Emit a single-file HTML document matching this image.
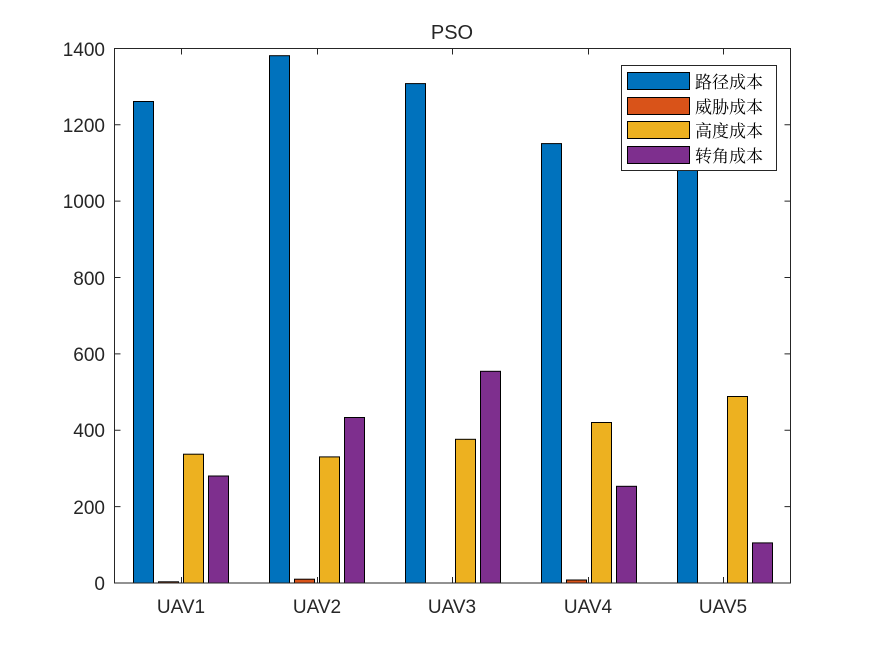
<!DOCTYPE html>
<html><head><meta charset="utf-8"><style>body{margin:0;background:#fff}svg{display:block}</style></head><body>
<svg width="875" height="656" xmlns="http://www.w3.org/2000/svg" font-family="Liberation Sans, sans-serif">
<rect width="875" height="656" fill="#fff"/>
<g stroke="#000" stroke-width="1">
<rect x="133.5" y="101.5" width="20" height="481.5" fill="#0072BD"/>
<rect x="158.5" y="581.8" width="20" height="1.2" fill="#D95319"/>
<rect x="183.5" y="454.2" width="20" height="128.8" fill="#EDB120"/>
<rect x="208.5" y="476.0" width="20" height="107" fill="#7E2F8E"/>
<rect x="269.5" y="55.7" width="20" height="527.3" fill="#0072BD"/>
<rect x="294.5" y="579.2" width="20" height="3.8" fill="#D95319"/>
<rect x="319.5" y="456.9" width="20" height="126.1" fill="#EDB120"/>
<rect x="344.5" y="417.5" width="20" height="165.5" fill="#7E2F8E"/>
<rect x="405.5" y="83.6" width="20" height="499.4" fill="#0072BD"/>
<rect x="455.5" y="439.3" width="20" height="143.7" fill="#EDB120"/>
<rect x="480.5" y="371.3" width="20" height="211.7" fill="#7E2F8E"/>
<rect x="541.5" y="143.6" width="20" height="439.4" fill="#0072BD"/>
<rect x="566.5" y="580" width="20" height="3" fill="#D95319"/>
<rect x="591.5" y="422.5" width="20" height="160.5" fill="#EDB120"/>
<rect x="616.5" y="486.3" width="20" height="96.7" fill="#7E2F8E"/>
<rect x="677.5" y="155" width="20" height="428" fill="#0072BD"/>
<rect x="727.5" y="396.5" width="20" height="186.5" fill="#EDB120"/>
<rect x="752.5" y="542.9" width="20" height="40.1" fill="#7E2F8E"/>
</g>
<g stroke="#262626" stroke-width="1" fill="none">
<rect x="114.5" y="48.5" width="676" height="534.5"/>
<path d="M114.5 506.6h6M114.5 430.2h6M114.5 353.9h6M114.5 277.5h6M114.5 201.1h6M114.5 124.8h6
M790.5 506.6h-6M790.5 430.2h-6M790.5 353.9h-6M790.5 277.5h-6M790.5 201.1h-6M790.5 124.8h-6
M181.5 583v-6M317.5 583v-6M452.5 583v-6M588.5 583v-6M723.5 583v-6
M181.5 48.5v6M317.5 48.5v6M452.5 48.5v6M588.5 48.5v6M723.5 48.5v6"/>
</g>
<g font-size="19" fill="#262626" text-anchor="end">
<text x="105" y="590">0</text><text x="105" y="514">200</text><text x="105" y="437">400</text>
<text x="105" y="361">600</text><text x="105" y="285">800</text><text x="105" y="208">1000</text>
<text x="105" y="132">1200</text><text x="105" y="56">1400</text>
</g>
<g font-size="19" fill="#262626" text-anchor="middle">
<text x="181" y="613">UAV1</text><text x="317" y="613">UAV2</text><text x="452" y="613">UAV3</text>
<text x="588" y="613">UAV4</text><text x="723" y="613">UAV5</text>
<text x="452" y="39" font-size="20">PSO</text>
</g>
<rect x="621.5" y="65.5" width="155" height="105" fill="#fff" stroke="#262626"/>
<g stroke="#000">
<rect x="627.5" y="72.5" width="62" height="17" fill="#0072BD"/>
<rect x="627.5" y="97.5" width="62" height="17" fill="#D95319"/>
<rect x="627.5" y="121.5" width="62" height="17" fill="#EDB120"/>
<rect x="627.5" y="146.5" width="62" height="17" fill="#7E2F8E"/>
</g>
<g font-size="17" fill="#000" font-family="Noto Serif CJK SC, serif">
<text x="695" y="88">路径成本</text><text x="695" y="113">威胁成本</text>
<text x="695" y="137">高度成本</text><text x="695" y="162">转角成本</text>
</g>
</svg>
</body></html>
